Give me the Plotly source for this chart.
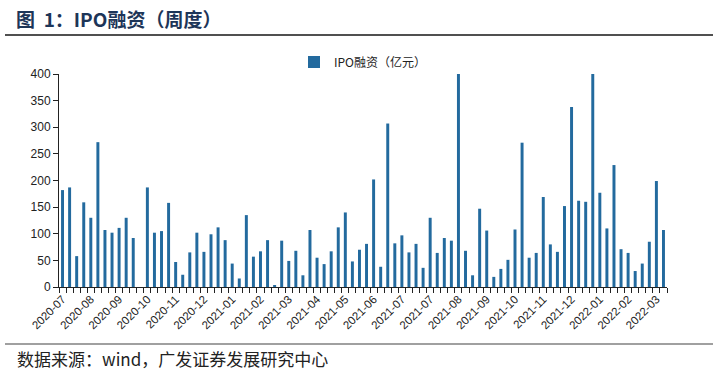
import plotly.graph_objects as go

# ---- data ----
ipo_values = [182, 187, 58, 159, 130, 272, 107, 102, 111, 130, 92, 0,
              187, 102, 105, 158, 47, 23, 65, 102, 66, 99, 112, 88,
              44, 16, 135, 57, 67, 88, 2.5, 87, 49, 68, 22, 107,
              55, 43, 67, 112, 140, 48, 70, 81, 202, 38, 307, 82,
              97, 65, 81, 36, 130, 64, 92, 87, 400, 68, 22, 147,
              106, 19, 34, 51, 108, 271, 55, 64, 169, 80, 66, 152,
              338, 162, 160, 400, 177, 110, 229, 71, 64, 30, 44, 85,
              199, 107]
week_ids = [f"W{i+1:02d}" for i in range(len(ipo_values))]
month_labels = ["2020-07", "2020-08", "2020-09", "2020-10", "2020-11", "2020-12",
                "2021-01", "2021-02", "2021-03", "2021-04", "2021-05", "2021-06",
                "2021-07", "2021-07", "2021-08", "2021-09", "2021-10", "2021-11",
                "2021-12", "2022-01", "2022-02", "2022-03"]
label_every = 4
tick_text = [""] * len(week_ids)
for k, lab in enumerate(month_labels):
    tick_text[k * label_every] = lab

W, H = 713, 380
L, R, T, B = 59, 46, 74, 93
PW, PH = W - L - R, H - T - B


def px(x):
    return (x - L) / PW


def py(y):
    return (H - B - y) / PH


FONT = "Liberation Sans, Arial, Noto Sans CJK SC, sans-serif"
CJK = "Noto Sans CJK SC, Liberation Sans, sans-serif"
BAR = "#236a9e"

fig = go.Figure()
fig.add_trace(go.Bar(x=week_ids, y=ipo_values, name="IPO融资（亿元）",
                     marker=dict(color=BAR, line=dict(width=0))))

fig.update_layout(
    width=W, height=H,
    margin=dict(l=L, r=R, t=T, b=B, autoexpand=False),
    paper_bgcolor="white", plot_bgcolor="white",
    bargap=0.58,
    font=dict(family=FONT, size=11, color="#222"),
    showlegend=True,
    legend=dict(orientation="h", x=0.5, xanchor="center", y=py(62), yanchor="middle",
                font=dict(family=CJK, size=12, color="#222"),
                itemwidth=30, bgcolor="rgba(0,0,0,0)"),
    title=dict(text="<b>图  1：IPO融资（周度）</b>",
               x=16 / W, xanchor="left", y=1 - 20 / H, yanchor="middle",
               xref="container", yref="container",
               font=dict(family=CJK, size=19, color="#1d3558")),
    xaxis=dict(type="category", tickmode="array", tickvals=week_ids, ticktext=tick_text,
               tickson="boundaries", ticks="outside", ticklen=5, tickcolor="#222",
               showline=True, linecolor="#222", linewidth=1, tickangle=-45,
               showgrid=False, automargin=False,
               tickfont=dict(family=FONT, size=11.5, color="#222"),
               range=[-0.5, len(week_ids) - 0.5]),
    yaxis=dict(range=[0, 400], dtick=50, ticks="outside", ticklen=5, tickcolor="#222",
               showline=True, linecolor="#222", linewidth=1, showgrid=False,
               zeroline=False, automargin=False,
               tickfont=dict(family=FONT, size=12, color="#222")),
    shapes=[
        dict(type="line", xref="paper", yref="paper", x0=px(5), x1=px(713),
             y0=py(35), y1=py(35), line=dict(color="#505050", width=2)),
        dict(type="line", xref="paper", yref="paper", x0=px(5), x1=px(713),
             y0=py(344), y1=py(344), line=dict(color="#808080", width=1.5)),
    ],
    annotations=[
        dict(text="数据来源：wind，广发证券发展研究中心", xref="paper", yref="paper",
             x=px(15), y=py(358), xanchor="left", yanchor="middle", showarrow=False,
             font=dict(family=CJK, size=17, color="#222")),
    ],
)

fig.write_html("out.html", config={"displayModeBar": False},
               post_script="document.body.style.margin='0';")
